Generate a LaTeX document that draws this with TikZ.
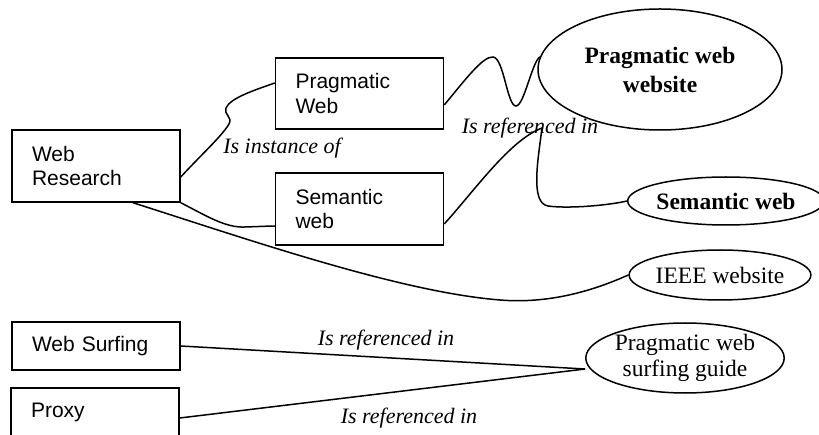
\documentclass[tikz,border=0pt]{standalone}
\usepackage{fontspec}
\setmainfont{Liberation Serif}
\newfontfamily\arialfont{Liberation Sans}
\usetikzlibrary{shapes.geometric}
\begin{document}
\begin{tikzpicture}[x=1pt,y=-1pt,
  conn/.style={line width=1.5pt},
  boxnode/.style={draw,line width=1.5pt,inner xsep=20pt,inner ysep=0pt,text width=128pt,align=left,font=\arialfont\fontsize{21}{24.5}\selectfont,minimum width=168pt},
  ell/.style={draw,ellipse,line width=1.5pt,inner sep=0pt,align=center,font=\fontsize{23.5}{26}\selectfont},
  lab/.style={font=\itshape\fontsize{22}{26}\selectfont,inner sep=0pt}]
\useasboundingbox (0,0) rectangle (819,435);
\clip (0,0) rectangle (819,435);
% boxes
\node[boxnode,minimum height=72pt] (wr) at (96,166) {Web\\Research};
\node[boxnode,minimum height=71pt] (pw) at (359.5,93.5) {Pragmatic\\Web};
\node[boxnode,minimum height=72pt] (sw) at (359.5,209) {Semantic\\web};
\node[boxnode,minimum height=48pt] (ws) at (96,346) {Web Surfing};
\node[boxnode,minimum height=48pt] (px) at (95,412) {Proxy};
% ellipses
\node[ell,minimum width=244pt,minimum height=121pt,font=\bfseries\fontsize{23.5}{29}\selectfont] (pww) at (660,69.5) {Pragmatic web\\website};
\node[ell,minimum width=184pt,minimum height=48pt,font=\bfseries\fontsize{23.5}{27}\selectfont] (swe) at (726,201) {Semantic web};
\node[ell,minimum width=170pt,minimum height=50pt] (ieee) at (720,275) {IEEE website};
\node[ell,minimum width=194pt,minimum height=70pt] (guide) at (685,358) {Pragmatic web\\surfing guide};
% labels
\node[lab] (l1) at (282,148) {Is instance of};
\node[lab] (l2) at (530,128) {Is referenced in};
\node[lab] (l3) at (386,340) {Is referenced in};
\node[lab] (l4) at (409,418) {Is referenced in};
% connectors
\draw[conn] ([yshift=-11pt]wr.east) .. controls (200,156) and (222,136) .. (229,124) .. controls (233,117) and (223,114) .. (226,108) .. controls (230,98) and (255,90) .. ([yshift=10.5pt]pw.west);
\draw[conn] (wr.south east) .. controls (205,215) and (225,228) .. (245,227) .. controls (260,226.5) and (270,226) .. ([yshift=-17pt]sw.west);
\draw[conn] ([xshift=37pt]wr.south) .. controls (250,240) and (400,292) .. (500,300) .. controls (560,305) and (610,283) .. (ieee.west);
\draw[conn] ([yshift=-11.5pt]pw.east) .. controls (465,80) and (483,56) .. (493,57) .. controls (504,58) and (507,106) .. (516,106) .. controls (524,106) and (532,62) .. (pww.174);
\coordinate (j) at (542,128);
\draw[conn] ([yshift=-15pt]sw.east) .. controls (475,190) and (510,140) .. (j);
\draw[conn] (j) .. controls (538,160) and (530,203) .. (548,206) .. controls (570,209) and (610,205) .. (swe.west);
\draw[conn] (ws.east) -- ([yshift=-11pt]guide.west);
\draw[conn] ([yshift=-6pt]px.east) -- ([yshift=-11pt]guide.west);
\end{tikzpicture}
\end{document}
